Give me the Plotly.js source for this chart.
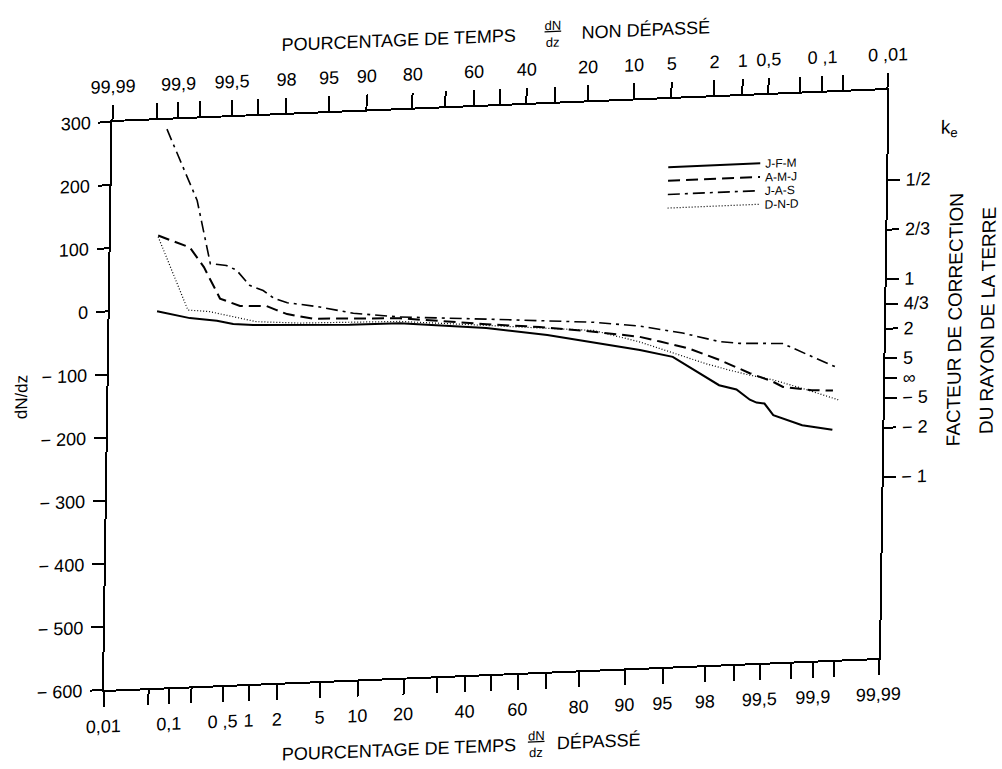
<!DOCTYPE html>
<html><head><meta charset="utf-8">
<script src="https://cdn.plot.ly/plotly-3.0.1.min.js"></script>
<style>
html,body{margin:0;padding:0;background:#fff;overflow:hidden;width:1002px;height:769px;}
#chart{width:1002px;height:790px;transform-origin:0 0;transform:matrix(1,-0.0413,-0.015,1,10.3,4.3);}
</style></head><body><div id="chart"></div>
<script>
// ---- data (percentage of time dN/dz exceeded, dN/dz value) ----
const seriesNames = ['J-F-M', 'A-M-J', 'J-A-S', 'D-N-D'];
const jfmPct = [0.055, 0.16, 0.36, 0.57, 0.97, 2.9, 7.9, 17.6, 27, 46, 68.7, 85, 91.6, 95.5, 98.4, 98.96, 99.27, 99.39, 99.51, 99.62, 99.71, 99.84, 99.94];
const jfmVal = [-3, -16, -22, -28, -31, -34, -37, -38, -43, -51, -66, -84, -96, -109, -157, -165, -182, -187, -189, -208, -214, -226, -235];
const amjPct = [0.055, 0.155, 0.24, 0.39, 0.68, 1.35, 1.72, 2.2, 3.9, 17.6, 46, 66, 82.4, 91.5, 94.2, 96.8, 98.4, 99.03, 99.26, 99.61, 99.71, 99.88, 99.94];
const amjVal = [117, 96, 64, 13, 0, -2, -9, -16, -25, -30, -45, -53, -64, -75, -84, -97, -117, -132, -140, -155, -164, -171, -173];
const jasPct = [0.07, 0.109, 0.19, 0.29, 0.46, 0.61, 0.87, 1.23, 1.6, 2.2, 4.2, 8.4, 17.6, 46, 82.4, 91.5, 96.3, 98.4, 99.02, 99.7, 99.8, 99.88, 99.95];
const jasVal = [285, 235, 170, 69, 65, 57, 32, 23, 10, 2, -6, -19, -28, -37, -49, -58, -72, -88, -92, -95, -106, -118, -138];
const dndPct = [0.055, 0.15, 0.29, 0.57, 1.05, 2.9, 17.6, 46, 82.4, 91.5, 97.8, 98.76, 99.26, 99.61, 99.86, 99.95];
const dndVal = [115, -3, -7, -17, -26, -31, -35, -47, -62, -83, -122, -134, -143, -152, -170, -188];

// ---- axes ----
const bottomLabelPct = [0.01, 0.1, 0.5, 1, 2, 5, 10, 20, 40, 60, 80, 90, 95, 98, 99.5, 99.9, 99.99];
const bottomLabelText = ['0,01', '0,1', '0 ,5', '1', '2', '5', '10', '20', '40', '60', '80', '90', '95', '98', '99,5', '99,9', '99,99'];
const bottomMinorPct = [0.05, 0.2, 30, 50, 70, 99, 99.8, 99.95];
const topLabelPct = [99.99, 99.9, 99.5, 98, 95, 90, 80, 60, 40, 20, 10, 5, 2, 1, 0.5, 0.1, 0.01];
const topLabelText = ['99,99', '99,9', '99,5', '98', '95', '90', '80', '60', '40', '20', '10', '5', '2', '1', '0,5', '0 ,1', '0 ,01'];
const topMinorPct = [99.95, 99.8, 99, 70, 50, 30, 0.2, 0.05];
const leftTickVals = [300, 200, 100, 0, -100, -200, -300, -400, -500, -600];
const leftTickText = ['300', '200', '100', '0', '\u2212 100', '\u2212 200', '\u2212 300', '\u2212 400', '\u2212 500', '\u2212 600'];
const keVals = [1/2, 2/3, 1, 4/3, 2, 5, Infinity, -5, -2, -1];
const keText = ['1/2', '2/3', '1', '4/3', '2', '5', '\u221E', '\u2212 5', '\u2212 2', '\u2212 1'];
const yRange = [-600, 300];
const pRange = [0.01, 99.99];

// inverse standard normal CDF (probability-paper scale)
function probit(p) {
  const a=[-3.969683028665376e+01,2.209460984245205e+02,-2.759285104469687e+02,1.383577518672690e+02,-3.066479806614716e+01,2.506628277459239e+00];
  const b=[-5.447609879822406e+01,1.615858368580409e+02,-1.556989798598866e+02,6.680131188771972e+01,-1.328068155288572e+01];
  const c=[-7.784894002430293e-03,-3.223964580411365e-01,-2.400758277161838e+00,-2.549732539343734e+00,4.374664141464968e+00,2.938163982698783e+00];
  const d=[7.784695709041462e-03,3.224671290700398e-01,2.445134137142996e+00,3.754408661907416e+00];
  const pl=0.02425, ph=1-pl; let q, r;
  if (p < pl) { q=Math.sqrt(-2*Math.log(p)); return (((((c[0]*q+c[1])*q+c[2])*q+c[3])*q+c[4])*q+c[5])/((((d[0]*q+d[1])*q+d[2])*q+d[3])*q+1); }
  if (p <= ph) { q=p-0.5; r=q*q; return (((((a[0]*r+a[1])*r+a[2])*r+a[3])*r+a[4])*r+a[5])*q/(((((b[0]*r+b[1])*r+b[2])*r+b[3])*r+b[4])*r+1); }
  q=Math.sqrt(-2*Math.log(1-p)); return -(((((c[0]*q+c[1])*q+c[2])*q+c[3])*q+c[4])*q+c[5])/((((d[0]*q+d[1])*q+d[2])*q+d[3])*q+1);
}
const zOf = pct => probit(pct / 100);
const zTop = pct => probit(1 - pct / 100);
const keToDN = k => 157 * (1 / k - 1);

const FONT = 'Liberation Sans, Arial, sans-serif';
const styles = [
  {color: '#000', width: 2, dash: 'solid'},
  {color: '#000', width: 2, dash: '12px,6px'},
  {color: '#000', width: 1.6, dash: '12px,5px,3px,5px'},
  {color: '#000', width: 1.2, dash: '1px,2px'}
];
const pcts = [jfmPct, amjPct, jasPct, dndPct];
const vals = [jfmVal, amjVal, jasVal, dndVal];
const legendIds = ['legend', 'legend2', 'legend3', 'legend4'];
const legendY = [0.880, 0.856, 0.832, 0.808];

const traces = seriesNames.map((n, i) => ({
  type: 'scatter', mode: 'lines', name: n, legend: legendIds[i],
  x: pcts[i].map(zOf), y: vals[i],
  text: pcts[i].map(p => p + ' %'),
  hovertemplate: n + ': %{y}<br>%{text}<extra></extra>',
  line: styles[i]
}));
traces.push({type: 'scatter', mode: 'lines', x: [], y: [], xaxis: 'x2', yaxis: 'y2', showlegend: false, hoverinfo: 'skip'});

const xr = pRange.map(zOf);
const tickFont = {family: FONT, size: 18, color: '#000'};
const axLine = {showgrid: false, zeroline: false, showline: true, linewidth: 2, linecolor: '#000',
                ticks: 'outside', tickwidth: 1.6, tickcolor: '#000', tickfont: tickFont, fixedrange: true};
const ann = (text, x, y, extra) => Object.assign({text, x, y, xref: 'paper', yref: 'paper', showarrow: false,
  xanchor: 'center', yanchor: 'middle', font: {family: FONT, size: 18, color: '#000'}}, extra || {});

const layout = {
  width: 1002, height: 790,
  margin: {l: 104, r: 123, t: 122, b: 100},
  paper_bgcolor: '#fff', plot_bgcolor: '#fff',
  font: {family: FONT, color: '#000'},
  showlegend: true,
  xaxis: Object.assign({}, axLine, {range: xr, tickvals: bottomLabelPct.map(zOf), ticktext: bottomLabelText,
          ticklen: 15, ticklabelstandoff: 4,
          minor: {tickvals: bottomMinorPct.map(zOf), ticks: 'outside', ticklen: 15, tickwidth: 1.6, tickcolor: '#000', showgrid: false}}),
  xaxis2: Object.assign({}, axLine, {overlaying: 'x', side: 'top', anchor: 'y', range: xr,
          tickvals: topLabelPct.map(zTop), ticktext: topLabelText, ticklen: 15, ticklabelstandoff: 5,
          minor: {tickvals: topMinorPct.map(zTop), ticks: 'outside', ticklen: 15, tickwidth: 1.6, tickcolor: '#000', showgrid: false}}),
  yaxis: Object.assign({}, axLine, {range: yRange, tickvals: leftTickVals, ticktext: leftTickText,
          ticklen: 12, ticklabelstandoff: 4}),
  yaxis2: Object.assign({}, axLine, {overlaying: 'y', side: 'right', anchor: 'x', range: yRange,
          tickvals: keVals.map(keToDN), ticktext: keText, ticklen: 12, ticklabelstandoff: 2}),
  annotations: [
    ann('dN/dz', -0.112, 0.522, {textangle: -90, font: {family: FONT, size: 17, color: '#000'}}),
    ann('k<sub>e</sub>', 1.081, 0.928, {font: {family: FONT, size: 19, color: '#000'}}),
    ann('FACTEUR DE CORRECTION', 1.092, 0.59, {textangle: -90, font: {family: FONT, size: 19, color: '#000'}}),
    ann('DU RAYON DE LA TERRE', 1.134, 0.587, {textangle: -90, font: {family: FONT, size: 19, color: '#000'}}),
    ann('POURCENTAGE DE TEMPS', 0.521, 1.124, {xanchor: 'right'}),
    ann('<u>dN</u><br>dz', 0.567, 1.124, {font: {family: FONT, size: 13, color: '#000'}}),
    ann('NON DÉPASSÉ', 0.601, 1.124, {xanchor: 'left'}),
    ann('POURCENTAGE DE TEMPS', 0.535, -0.127, {xanchor: 'right'}),
    ann('<u>dN</u><br>dz', 0.559, -0.127, {font: {family: FONT, size: 13, color: '#000'}}),
    ann('DÉPASSÉ', 0.583, -0.127, {xanchor: 'left'})
  ]
};
legendIds.forEach((id, i) => {
  layout[id] = {x: 0.712, y: legendY[i], xanchor: 'left', yanchor: 'middle', bgcolor: 'rgba(0,0,0,0)',
                font: {family: FONT, size: 12, color: '#000'}, itemwidth: 92};
});
Plotly.newPlot('chart', traces, layout, {displayModeBar: false});
</script></body></html>
